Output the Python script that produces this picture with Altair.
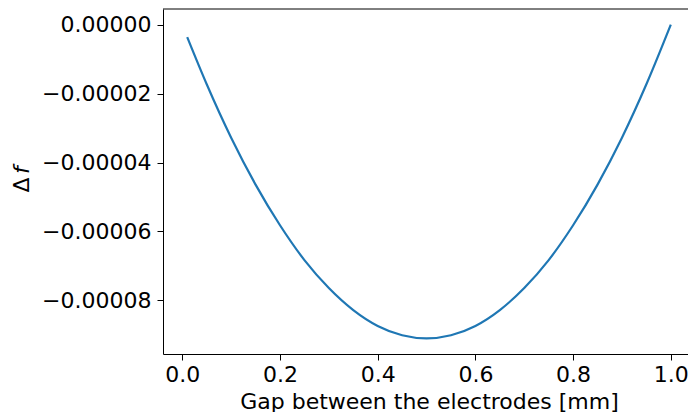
import altair as alt
import pandas as pd

# Values
gap_mm = [0.01, 0.05, 0.10, 0.15, 0.20, 0.25, 0.30, 0.35, 0.40, 0.45, 0.50,
          0.55, 0.60, 0.65, 0.70, 0.75, 0.80, 0.85, 0.90, 0.95, 1.00]
delta_f = [-3.6e-6, -1.73e-5, -3.28e-5, -4.64e-5, -5.82e-5, -6.83e-5, -7.64e-5,
           -8.28e-5, -8.74e-5, -9.01e-5, -9.10e-5, -9.01e-5, -8.74e-5, -8.28e-5,
           -7.64e-5, -6.83e-5, -5.82e-5, -4.64e-5, -3.28e-5, -1.73e-5, 0.0]
x_ticks = [0.0, 0.2, 0.4, 0.6, 0.8, 1.0]
y_ticks = [0.0, -2e-5, -4e-5, -6e-5, -8e-5]

df = pd.DataFrame({"gap": gap_mm, "df": delta_f})

FONT = "DejaVu Sans"
FS = 22
W, H = 525, 345

x_enc = alt.X("gap:Q",
              scale=alt.Scale(domain=[-0.0395, 1.0352], nice=False, zero=False),
              axis=alt.Axis(values=x_ticks, format=".1f",
                            title="Gap between the electrodes [mm]",
                            titleX=266, titleY=54, titleAlign="center",
                            titleBaseline="alphabetic", labelPadding=4))
y_enc = alt.Y("df:Q",
              scale=alt.Scale(domain=[-9.555e-5, 4.55e-6], nice=False, zero=False),
              axis=alt.Axis(values=y_ticks, format=".5f", title=None,
                            labelPadding=6))

line = alt.Chart(df).mark_line(color="#1f77b4", strokeWidth=2.2,
                               interpolate="monotone").encode(x=x_enc, y=y_enc)

one = pd.DataFrame({"k": [0]})
top_spine = alt.Chart(one).mark_rule(color="black", strokeWidth=1).encode(
    x=alt.value(0), x2=alt.value(W), y=alt.value(0))

delta_txt = alt.Chart(one).mark_text(text="Δ", font=FONT, fontSize=FS, angle=270,
                                     align="center", baseline="middle",
                                     color="black").encode(
    x=alt.value(22 - 163), y=alt.value(185 - 9))
f_txt = alt.Chart(one).mark_text(text="f", font=FONT, fontSize=FS, angle=270,
                                 fontStyle="italic", align="center",
                                 baseline="middle", color="black").encode(
    x=alt.value(22 - 163), y=alt.value(170 - 9))

chart = alt.layer(line, top_spine, delta_txt, f_txt).properties(
    width=W, height=H,
    background="white",
    autosize=alt.AutoSizeParams(type="none"),
    padding={"left": 163, "top": 9, "right": 0, "bottom": 58},
).configure_view(stroke=None).configure_axis(
    grid=False, labelFont=FONT, labelFontSize=FS, labelColor="black",
    titleFont=FONT, titleFontSize=FS, titleColor="black", titleFontWeight="normal",
    domainColor="black", domainWidth=1, tickColor="black", tickWidth=1, tickSize=6,
)

chart.save("out.html", embed_options={"renderer": "svg", "actions": False})
